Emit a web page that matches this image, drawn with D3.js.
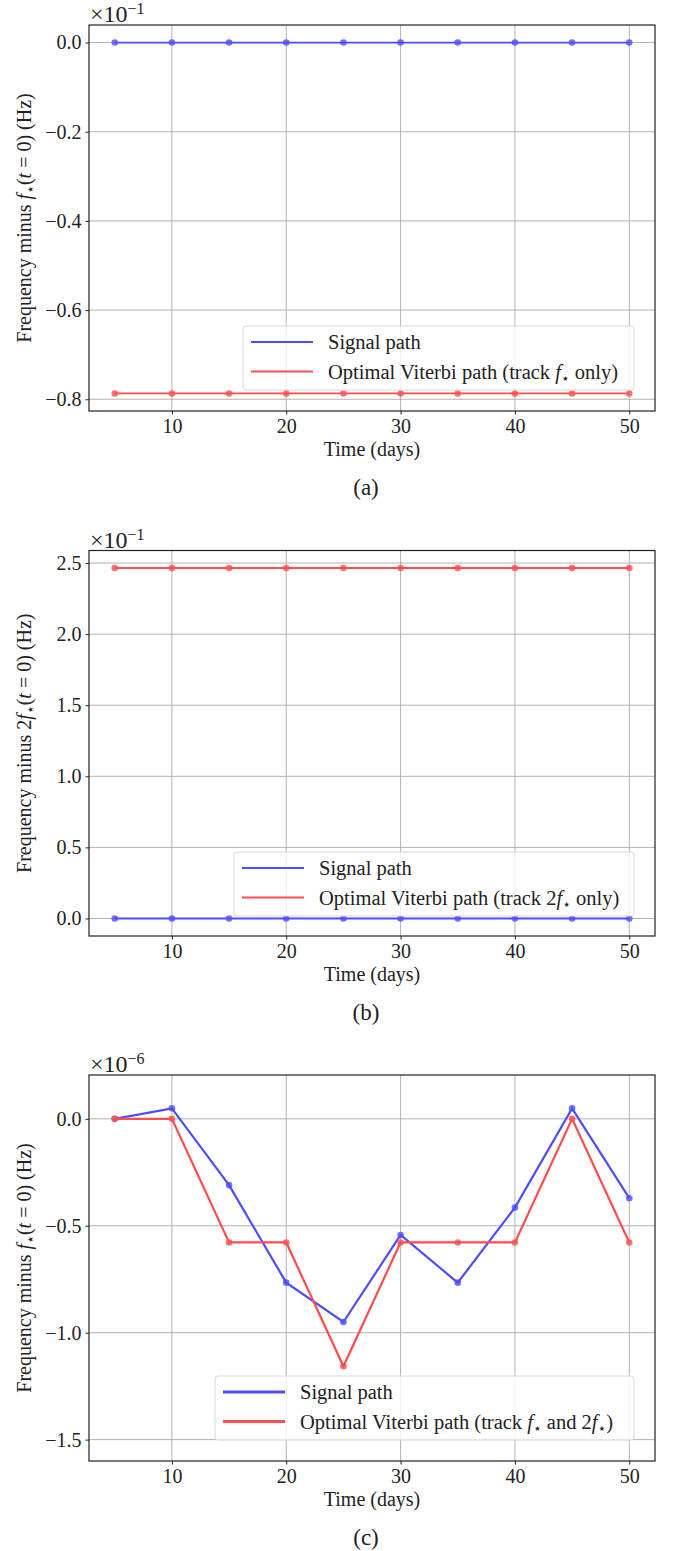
<!DOCTYPE html>
<html><head><meta charset="utf-8">
<script src="https://cdn.jsdelivr.net/npm/d3@7"></script>
<style>
body{margin:0;background:#fff;}
svg{display:block;}
text{font-family:"Liberation Serif",serif;fill:#222;}
</style></head>
<body><svg id="chart" width="673" height="1551"></svg>
<script>
// ---- data ----
const days = [5, 10, 15, 20, 25, 30, 35, 40, 45, 50];
const xTicks = [10, 20, 30, 40, 50];

// panel (a), units of 1e-1 Hz
const signalA  = [0, 0, 0, 0, 0, 0, 0, 0, 0, 0];
const viterbiA = [-0.787, -0.787, -0.787, -0.787, -0.787, -0.787, -0.787, -0.787, -0.787, -0.787];
const yTicksA  = [0.0, -0.2, -0.4, -0.6, -0.8];

// panel (b), units of 1e-1 Hz
const signalB  = [0, 0, 0, 0, 0, 0, 0, 0, 0, 0];
const viterbiB = [2.465, 2.465, 2.465, 2.465, 2.465, 2.465, 2.465, 2.465, 2.465, 2.465];
const yTicksB  = [0.0, 0.5, 1.0, 1.5, 2.0, 2.5];

// panel (c), units of 1e-6 Hz
const signalC  = [0, 0.049, -0.310, -0.766, -0.950, -0.543, -0.766, -0.415, 0.049, -0.371];
const viterbiC = [0, 0, -0.578, -0.578, -1.157, -0.578, -0.578, -0.578, 0, -0.578];
const yTicksC  = [0.0, -0.5, -1.0, -1.5];
const yLimC    = [-1.60, 0.205];

const legendSignal = "Signal path";

// ---- drawing ----
const svg = d3.select("#chart");
const blue = "rgb(77,77,255)", red = "rgb(255,77,77)";
const L = 89, R = 655;
const FS = 20;
const fmt = v => (v < 0 ? "\u2212" : "") + Math.abs(v).toFixed(1);

function padDomain(arrs){
  const all = arrs.flat();
  const [mn, mx] = d3.extent(all);
  const m = (mx - mn) * 0.05;
  return [mn - m, mx + m];
}

function star(sel){
  return sel.append("tspan").attr("font-size", 14).attr("dy", 4)
    .style("font-family", "'DejaVu Sans',sans-serif").text("\u22c6");
}

function panel(o){
  const g = svg.append("g");
  const x = d3.scaleLinear().domain([2.75, 52.25]).range([L, R]);
  const y = d3.scaleLinear().domain(o.ydom).range([o.bottom, o.top]);

  // grid
  g.append("g").selectAll("line").data(xTicks).join("line")
    .attr("x1", d => x(d)).attr("x2", d => x(d)).attr("y1", o.top).attr("y2", o.bottom)
    .attr("stroke", "#aaaaaa").attr("stroke-width", 0.9);
  g.append("g").selectAll("line").data(o.yticks).join("line")
    .attr("x1", L).attr("x2", R).attr("y1", d => y(d)).attr("y2", d => y(d))
    .attr("stroke", "#aaaaaa").attr("stroke-width", 0.9);

  // series
  const line = d3.line().x((d, i) => x(days[i])).y(d => y(d));
  o.series.forEach(s => {
    g.append("path").attr("d", line(s.values)).attr("fill", "none")
      .attr("stroke", s.color).attr("stroke-width", o.lw);
    g.append("g").selectAll("circle").data(s.values).join("circle")
      .attr("cx", (d, i) => x(days[i])).attr("cy", d => y(d)).attr("r", 3.3)
      .attr("fill", s.color).attr("opacity", 0.8);
  });

  // axes
  const ax = g.append("g").attr("transform", `translate(0,${o.bottom})`)
    .call(d3.axisBottom(x).tickValues(xTicks).tickSize(3.5).tickPadding(4).tickFormat(d3.format("d")));
  const ay = g.append("g").attr("transform", `translate(${L},0)`)
    .call(d3.axisLeft(y).tickValues(o.yticks).tickSize(3.5).tickPadding(4).tickFormat(fmt));
  [ax, ay].forEach(a => {
    a.select(".domain").remove();
    a.selectAll("text").attr("font-size", FS).attr("fill", "#222")
      .style("font-family", "'Liberation Serif',serif");
    a.selectAll("line").attr("stroke", "#222").attr("stroke-width", 1);
  });
  // frame
  g.append("rect").attr("x", L).attr("y", o.top).attr("width", R - L).attr("height", o.bottom - o.top)
    .attr("fill", "none").attr("stroke", "#222").attr("stroke-width", 1.2);

  // exponent label
  const ex = g.append("text").attr("x", L + 1).attr("y", o.top - 3).attr("font-size", 24);
  ex.append("tspan").text("\u00d710");
  ex.append("tspan").attr("dy", -8).attr("font-size", 16).text(o.exp);

  // x label
  g.append("text").attr("x", (L + R) / 2).attr("y", o.bottom + 45).attr("text-anchor", "middle")
    .attr("font-size", FS).text("Time (days)");

  // y label
  const yl = g.append("text")
    .attr("transform", `translate(31,${(o.top + o.bottom) / 2}) rotate(-90)`)
    .attr("text-anchor", "middle").attr("font-size", FS);
  yl.append("tspan").text("Frequency minus " + o.pre);
  yl.append("tspan").attr("font-style", "italic").text("f");
  star(yl);
  yl.append("tspan").attr("dy", -4).text("(");
  yl.append("tspan").attr("font-style", "italic").text("t");
  yl.append("tspan").text(" = 0) (Hz)");

  // legend
  const lg = o.legend;
  g.append("rect").attr("x", lg.x).attr("y", lg.y).attr("width", R - 21 - lg.x).attr("height", 64)
    .attr("rx", 3).attr("fill", "rgba(255,255,255,0.8)").attr("stroke", "#d8d8d8").attr("stroke-width", 1);
  o.series.forEach((s, i) => {
    const cy = lg.y + 16 + i * 29.5;
    g.append("line").attr("x1", lg.x + 8).attr("x2", lg.x + 70).attr("y1", cy).attr("y2", cy)
      .attr("stroke", s.color).attr("stroke-width", o.legLw);
    const t = g.append("text").attr("x", lg.x + 85).attr("y", cy + 7).attr("font-size", 20.5);
    s.label.forEach(p => {
      if (p.sub) { star(t); return; }
      const ts = t.append("tspan").text(p.t);
      if (p.i) ts.attr("font-style", "italic");
      if (p.up) ts.attr("dy", -4);
    });
  });

  // caption
  svg.append("text").attr("x", 366).attr("y", o.bottom + 84).attr("text-anchor", "middle")
    .attr("font-size", 23).attr("fill", "#000").text(o.cap);
}

panel({
  top: 25, bottom: 411, ydom: padDomain([signalA, viterbiA]), yticks: yTicksA, exp: "\u22121",
  pre: "", cap: "(a)", lw: 1.8, legLw: 2,
  legend: {x: 243, y: 326},
  series: [
    {values: signalA, color: blue, label: [{t: legendSignal}]},
    {values: viterbiA, color: red, label: [{t: "Optimal Viterbi path (track "}, {t: "f", i: 1}, {sub: 1}, {t: " only)", up: 1}]}
  ]
});
panel({
  top: 550.5, bottom: 936, ydom: padDomain([signalB, viterbiB]), yticks: yTicksB, exp: "\u22121",
  pre: "2", cap: "(b)", lw: 1.8, legLw: 2,
  legend: {x: 234, y: 852},
  series: [
    {values: signalB, color: blue, label: [{t: legendSignal}]},
    {values: viterbiB, color: red, label: [{t: "Optimal Viterbi path (track 2"}, {t: "f", i: 1}, {sub: 1}, {t: " only)", up: 1}]}
  ]
});
panel({
  top: 1075, bottom: 1461, ydom: yLimC, yticks: yTicksC, exp: "\u22126",
  pre: "", cap: "(c)", lw: 2.2, legLw: 3,
  legend: {x: 215, y: 1376},
  series: [
    {values: signalC, color: blue, label: [{t: legendSignal}]},
    {values: viterbiC, color: red, label: [{t: "Optimal Viterbi path (track "}, {t: "f", i: 1}, {sub: 1}, {t: " and 2", up: 1}, {t: "f", i: 1}, {sub: 1}, {t: ")", up: 1}]}
  ]
});
</script></body></html>
